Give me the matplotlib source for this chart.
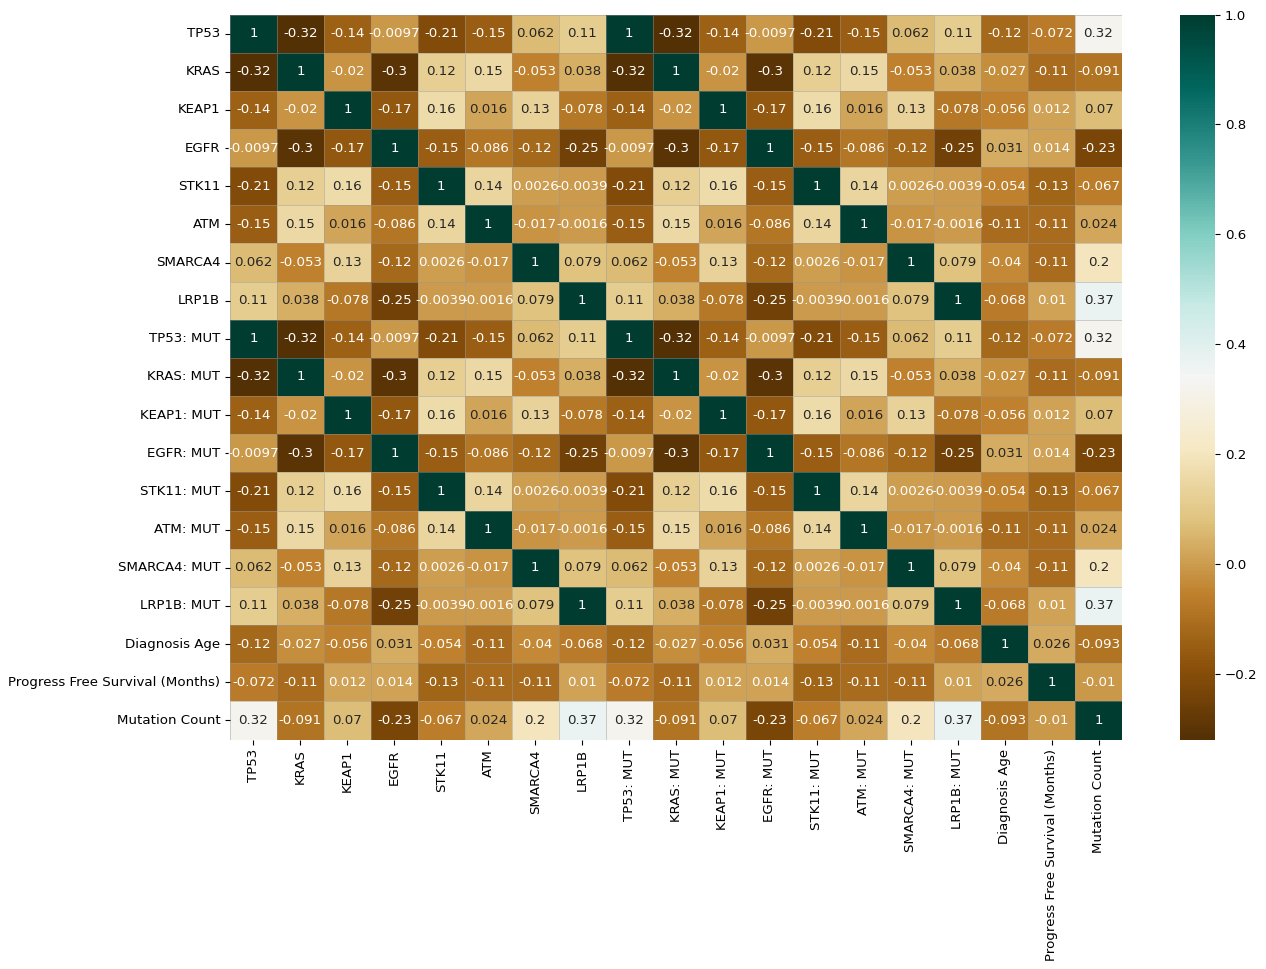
import matplotlib
matplotlib.use("Agg")
import matplotlib.pyplot as plt
import seaborn as sns
import numpy as np
import pandas as pd

genes = ["TP53", "KRAS", "KEAP1", "EGFR", "STK11", "ATM", "SMARCA4", "LRP1B"]
extra = ["Diagnosis Age", "Progress Free Survival (Months)", "Mutation Count"]

# gene vs gene correlations
gene_corr = [
    [1, -0.32, -0.14, -0.0097, -0.21, -0.15, 0.062, 0.11],
    [-0.32, 1, -0.02, -0.3, 0.12, 0.15, -0.053, 0.038],
    [-0.14, -0.02, 1, -0.17, 0.16, 0.016, 0.13, -0.078],
    [-0.0097, -0.3, -0.17, 1, -0.15, -0.086, -0.12, -0.25],
    [-0.21, 0.12, 0.16, -0.15, 1, 0.14, 0.0026, -0.0039],
    [-0.15, 0.15, 0.016, -0.086, 0.14, 1, -0.017, -0.0016],
    [0.062, -0.053, 0.13, -0.12, 0.0026, -0.017, 1, 0.079],
    [0.11, 0.038, -0.078, -0.25, -0.0039, -0.0016, 0.079, 1],
]
# clinical vars vs genes
extra_gene = [
    [-0.12, -0.027, -0.056, 0.031, -0.054, -0.11, -0.04, -0.068],
    [-0.072, -0.11, 0.012, 0.014, -0.13, -0.11, -0.11, 0.01],
    [0.32, -0.091, 0.07, -0.23, -0.067, 0.024, 0.2, 0.37],
]
# clinical vars vs clinical vars
extra_corr = [
    [1, 0.026, -0.093],
    [0.026, 1, -0.01],
    [-0.093, -0.01, 1],
]

labels = genes + [g + ": MUT" for g in genes] + extra
gc = np.array(gene_corr)
eg = np.array(extra_gene)
top = np.hstack([gc, gc, eg.T])
bottom = np.hstack([eg, eg, np.array(extra_corr)])
corr = pd.DataFrame(np.vstack([top, top, bottom]), index=labels, columns=labels)

plt.rcParams['font.size'] = 9.6

fig = plt.figure(figsize=(12.66, 9.69), dpi=100)
ax = fig.add_axes([230/1266, 1 - 739.5/969, 892/1266, 725/969])
cax = fig.add_axes([1180/1266, 1 - 739.5/969, 35/1266, 725/969])
sns.heatmap(corr, annot=True, cmap="BrBG", ax=ax, cbar_ax=cax,
            linewidths=0.4, linecolor=(0.6, 0.6, 0.6, 0.45))
plt.savefig("out.png", dpi=100)
